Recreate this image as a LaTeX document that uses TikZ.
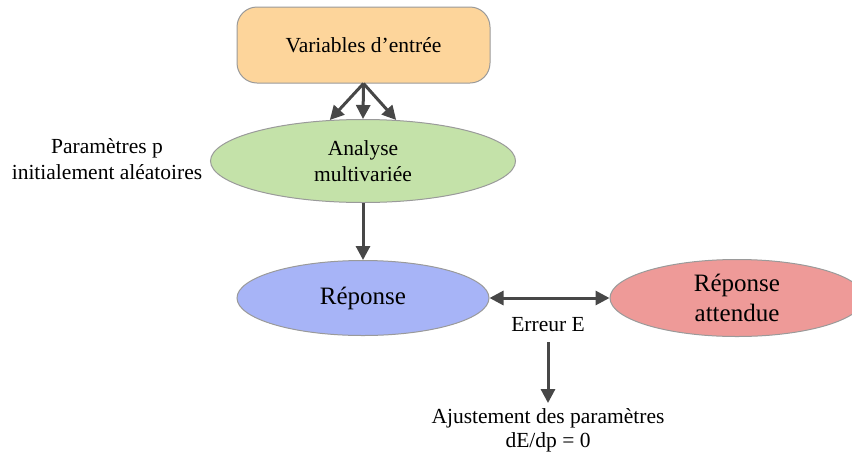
\documentclass[tikz,border=0pt]{standalone}
\usepackage{fontspec}
\setmainfont{Liberation Serif}
\usetikzlibrary{positioning,arrows.meta,shapes.geometric}
\definecolor{inorange}{HTML}{FDD59B}
\definecolor{angreen}{HTML}{C4E2A9}
\definecolor{repblue}{HTML}{A7B4F7}
\definecolor{attred}{HTML}{EE9A98}
\definecolor{edgegray}{HTML}{9A9A9A}
\definecolor{arrowgray}{HTML}{474747}

\begin{document}
\begin{tikzpicture}[
  x=1pt, y=-1pt,
  >={Triangle[length=14pt,width=14pt]},
  font=\fontsize{21.5}{26}\selectfont,
  box/.style={draw=edgegray, line width=1pt, rounded corners=20pt, minimum width=253pt, minimum height=76pt},
  blob/.style={ellipse, draw=edgegray, line width=1pt, align=center, inner sep=0pt},
  big/.style={font=\fontsize{25}{30}\selectfont},
  label/.style={align=center, inner sep=2pt},
  flow/.style={->, draw=arrowgray, line width=3pt}
]
\useasboundingbox (0,0) rectangle (852,459);

\node[box, fill=inorange] (inputs) at (363.5,45) {Variables d’entrée};

\node[blob, fill=angreen, minimum width=305pt, minimum height=83pt] (analyse) at (363,161)
{Analyse\\multivariée};

\node[label] (params) at (107,159) {Paramètres p\\initialement aléatoires};

\node[blob, big, fill=repblue, minimum width=252pt, minimum height=75pt] (reponse) at (363,298) {Réponse};

\node[blob, big, fill=attred, minimum width=254pt, minimum height=77pt] (attendue) at (737,298)
{Réponse\\attendue};

\node[label] (erreur) at (548,325) {Erreur E};

\node[label, font=\fontsize{21.5}{24}\selectfont, inner sep=5pt] (ajust) at (548,430)
{Ajustement des paramètres\\dE/dp = 0};

\draw[flow] (inputs.south) -- (analyse.129);
\draw[flow] (inputs.south) -- (analyse.north);
\draw[flow] (inputs.south) -- (analyse.51);
\draw[flow] (analyse.south) -- (reponse.north);
\draw[flow, <->] (reponse.east) -- (attendue.west);
\draw[flow] ([yshift=-8pt]erreur.south) -- (ajust.north);

\end{tikzpicture}
\end{document}
